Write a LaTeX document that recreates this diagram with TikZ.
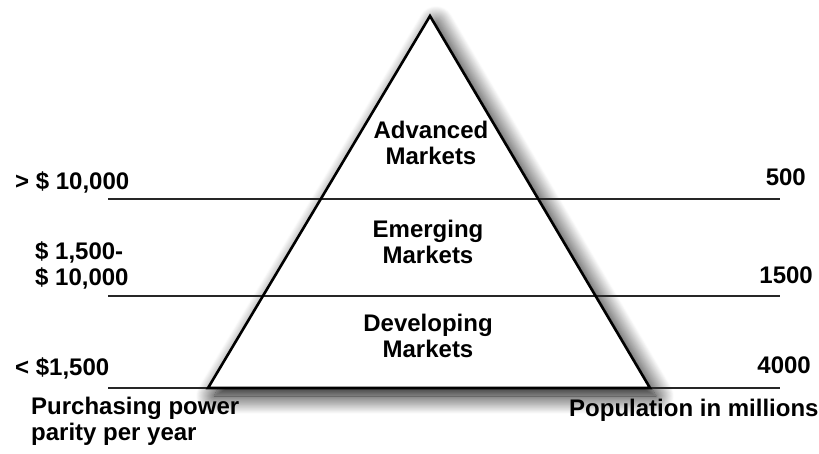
\documentclass[tikz,border=0pt]{standalone}
\usepackage{fontspec}
\setmainfont{Liberation Sans}
\usetikzlibrary{positioning, shadows.blur}

\tikzset{
  label/.style={font=\fontsize{24}{25.5}\selectfont\bfseries, inner sep=0pt},
  tier/.style={line width=2pt, draw=black!85},
}

\begin{document}
\begin{tikzpicture}[x=1pt, y=-1pt]
        \useasboundingbox (0,0) rectangle (819,453);

        % pyramid with its soft shadow
        \coordinate (apex) at (430,16);
        \coordinate (baseleft) at (208,388);
        \coordinate (baseright) at (650,388);
        \fill[white, blur shadow={shadow xshift=6pt, shadow yshift=-8pt, shadow blur radius=18pt, shadow blur steps=20, shadow opacity=100}]
            (apex) -- (baseleft) -- (baseright) -- cycle;

        % income levels
        \draw[tier] (108,198.5) -- (780,198.5);
        \draw[tier] (108,295.5) -- (780,295.5);
        \draw[tier] (108,388) -- (780,388);

        \draw[line width=2.6pt, line join=miter] (apex) -- (baseleft) -- (baseright) -- cycle;

        % tier names (base = last line)
        \node[label, align=center, anchor=base] (advanced) at (431,164) {Advanced\\Markets};
        \node[label, align=center, anchor=base] (emerging) at (428,263) {Emerging\\Markets};
        \node[label, align=center, anchor=base] (developing) at (428,357) {Developing\\Markets};

        % purchasing power
        \node[label, anchor=base west] (high) at (15,189) {> \$ 10,000};
        \node[label, anchor=base west, align=left] (middle) at (35,285) {\$ 1,500-\\\$ 10,000};
        \node[label, anchor=base west] (low) at (15,375) {< \$1,500};
        \node[label, anchor=base west, align=left] (ppp) at (31,440) {Purchasing power\\parity per year};

        % population
        \node[label, anchor=base east] (pop_high) at (806,185) {500};
        \node[label, anchor=base east] (pop_middle) at (813,283) {1500};
        \node[label, anchor=base east] (pop_low) at (811,373) {4000};
        \node[label, anchor=base west] (population) at (569,416) {Population in millions};
    \end{tikzpicture}
\end{document}
